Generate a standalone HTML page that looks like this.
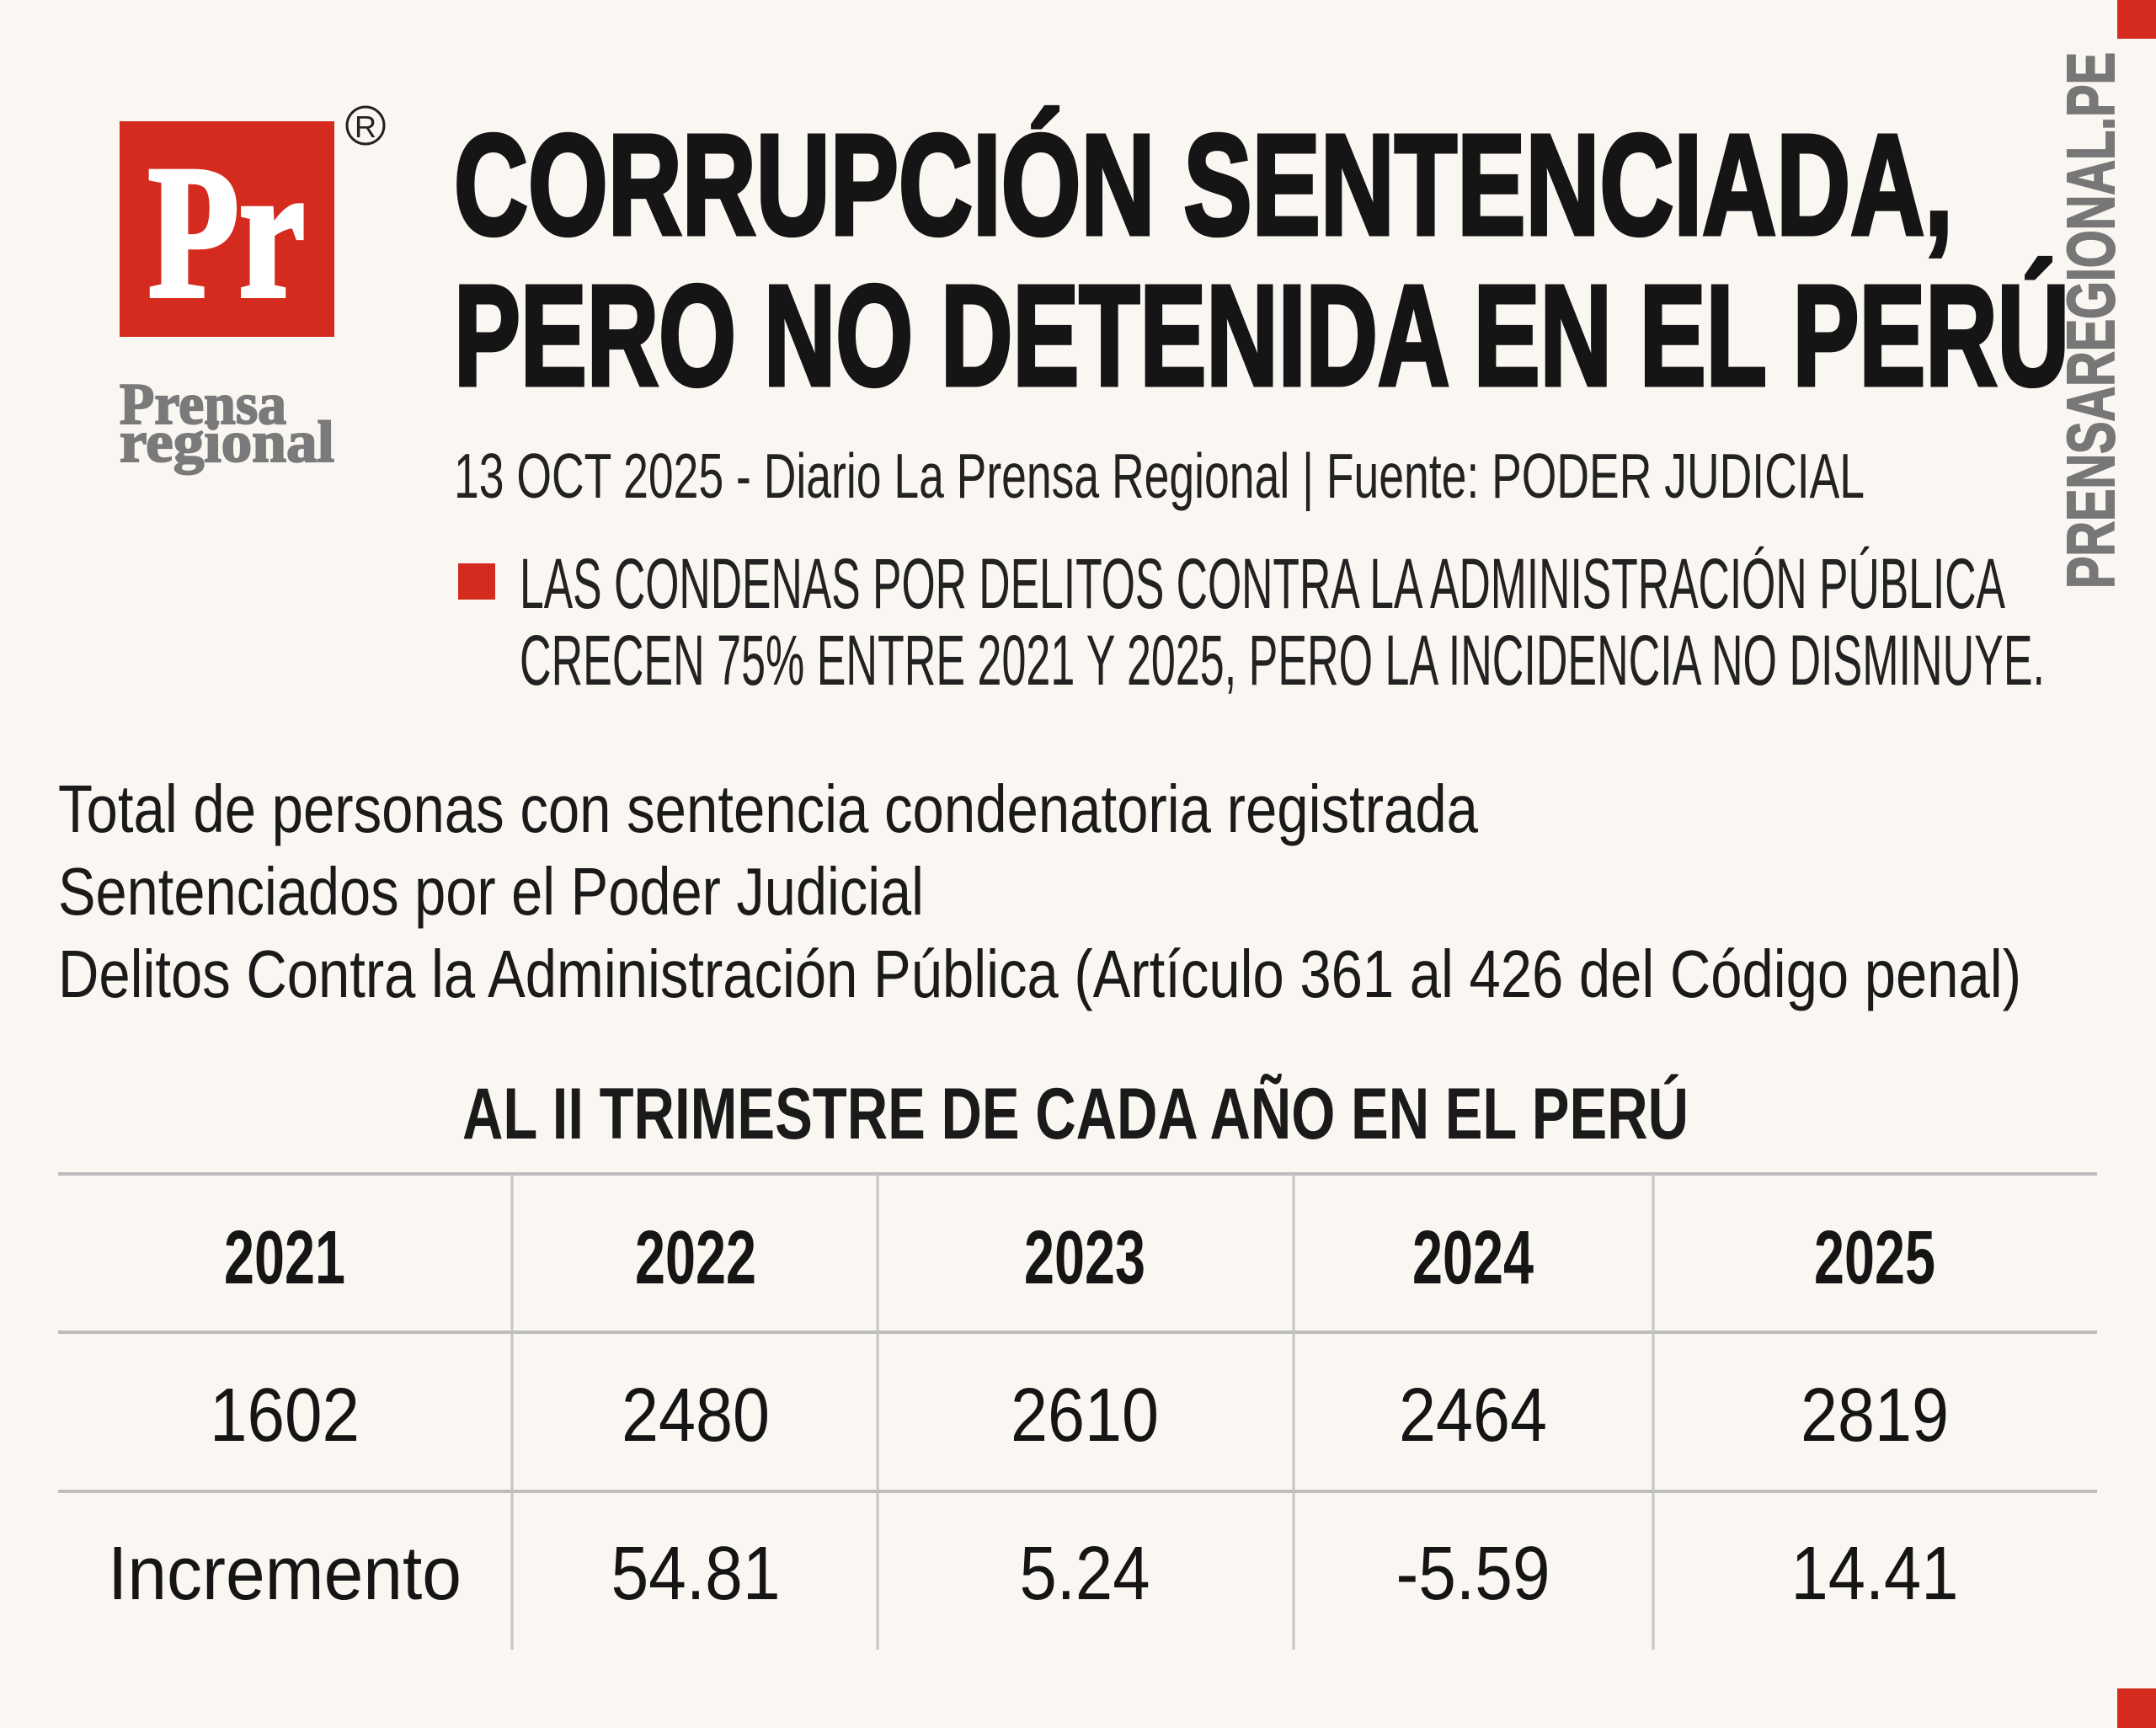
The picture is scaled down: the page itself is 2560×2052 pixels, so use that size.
<!DOCTYPE html>
<html><head><meta charset="utf-8"><style>
html,body{margin:0;padding:0;background:#faf6f2;}
svg{display:block;}
</style></head><body>
<svg width="2560" height="2052" viewBox="0 0 2560 2052" xmlns="http://www.w3.org/2000/svg">
<rect width="2560" height="2052" fill="#faf6f2"/>
<rect x="2514" y="0" width="46" height="46" fill="#d52b1e"/>
<rect x="2514" y="2005" width="46" height="47" fill="#d52b1e"/>
<!-- logo -->
<rect x="142" y="144" width="255" height="256" fill="#d52b1e"/>
<text x="176" y="351" font-family="Liberation Serif, serif" font-weight="bold" font-size="225" fill="#fff" stroke="#fff" stroke-width="6" textLength="186" lengthAdjust="spacingAndGlyphs">Pr</text>
<circle cx="434" cy="149" r="22" fill="none" stroke="#222" stroke-width="3"/>
<text x="434" y="163" text-anchor="middle" font-family="Liberation Sans, sans-serif" font-size="36" fill="#222">R</text>
<text x="142" y="503" font-family="Liberation Serif, serif" font-weight="bold" font-size="70" fill="#7a7a7a" stroke="#7a7a7a" stroke-width="2" textLength="198" lengthAdjust="spacingAndGlyphs">Prensa</text>
<text x="142" y="548" font-family="Liberation Serif, serif" font-weight="bold" font-size="70" fill="#7a7a7a" stroke="#7a7a7a" stroke-width="2" textLength="255" lengthAdjust="spacingAndGlyphs">regional</text>
<!-- title -->
<g font-family="Liberation Sans, sans-serif" fill="#151515">
<text x="539" y="278" font-weight="bold" font-size="170" stroke="#151515" stroke-width="5" textLength="1780" lengthAdjust="spacingAndGlyphs">CORRUPCIÓN SENTENCIADA,</text>
<text x="539" y="457" font-weight="bold" font-size="170" stroke="#151515" stroke-width="5" textLength="1918" lengthAdjust="spacingAndGlyphs">PERO NO DETENIDA EN EL PERÚ</text>
<text x="539" y="591" font-size="75" fill="#222" textLength="1675" lengthAdjust="spacingAndGlyphs">13 OCT 2025 - Diario La Prensa Regional | Fuente: PODER JUDICIAL</text>
<rect x="544" y="669" width="44" height="43" fill="#d52b1e"/>
<text x="617" y="722" font-size="84" fill="#222" textLength="1764" lengthAdjust="spacingAndGlyphs">LAS CONDENAS POR DELITOS CONTRA LA ADMINISTRACIÓN PÚBLICA</text>
<text x="617" y="813" font-size="84" fill="#222" textLength="1811" lengthAdjust="spacingAndGlyphs">CRECEN 75% ENTRE 2021 Y 2025, PERO LA INCIDENCIA NO DISMINUYE.</text>
</g>
<text transform="translate(2510,699) rotate(-90)" font-family="Liberation Sans, sans-serif" font-weight="bold" font-size="80" fill="#777" stroke="#777" stroke-width="2" textLength="637" lengthAdjust="spacingAndGlyphs">PRENSAREGIONAL.PE</text>
<!-- body -->
<g font-family="Liberation Sans, sans-serif" font-size="80" fill="#1a1a1a">
<text x="69" y="988" textLength="1686" lengthAdjust="spacingAndGlyphs">Total de personas con sentencia condenatoria registrada</text>
<text x="69" y="1086" textLength="1028" lengthAdjust="spacingAndGlyphs">Sentenciados por el Poder Judicial</text>
<text x="69" y="1184" textLength="2331" lengthAdjust="spacingAndGlyphs">Delitos Contra la Administración Pública (Artículo 361 al 426 del Código penal)</text>
<text x="549" y="1352" font-weight="bold" font-size="86" textLength="1456" lengthAdjust="spacingAndGlyphs">AL II TRIMESTRE DE CADA AÑO EN EL PERÚ</text>
</g>
<!-- table -->
<g stroke="#bdbdbd" stroke-width="4">
<line x1="69" y1="1394" x2="2490" y2="1394"/>
<line x1="69" y1="1582" x2="2490" y2="1582"/>
<line x1="69" y1="1771" x2="2490" y2="1771"/>
</g>
<g stroke="#c4c4c4" stroke-width="3">
<line x1="608" y1="1396" x2="608" y2="1959"/>
<line x1="1042" y1="1396" x2="1042" y2="1959"/>
<line x1="1536" y1="1396" x2="1536" y2="1959"/>
<line x1="1963" y1="1396" x2="1963" y2="1959"/>
</g>
<g font-family="Liberation Sans, sans-serif" fill="#151515" text-anchor="middle">
<g font-weight="bold" font-size="90">
<text x="338" y="1524" textLength="144" lengthAdjust="spacingAndGlyphs">2021</text>
<text x="826" y="1524" textLength="144" lengthAdjust="spacingAndGlyphs">2022</text>
<text x="1288" y="1524" textLength="144" lengthAdjust="spacingAndGlyphs">2023</text>
<text x="1749" y="1524" textLength="144" lengthAdjust="spacingAndGlyphs">2024</text>
<text x="2226" y="1524" textLength="144" lengthAdjust="spacingAndGlyphs">2025</text>
</g>
<g font-size="90">
<text x="338" y="1711" textLength="178" lengthAdjust="spacingAndGlyphs">1602</text>
<text x="826" y="1711" textLength="176" lengthAdjust="spacingAndGlyphs">2480</text>
<text x="1288" y="1711" textLength="176" lengthAdjust="spacingAndGlyphs">2610</text>
<text x="1749" y="1711" textLength="176" lengthAdjust="spacingAndGlyphs">2464</text>
<text x="2226" y="1711" textLength="176" lengthAdjust="spacingAndGlyphs">2819</text>
<text x="338" y="1899" textLength="420" lengthAdjust="spacingAndGlyphs">Incremento</text>
<text x="826" y="1899" textLength="201" lengthAdjust="spacingAndGlyphs">54.81</text>
<text x="1288" y="1899" textLength="155" lengthAdjust="spacingAndGlyphs">5.24</text>
<text x="1749" y="1899" textLength="183" lengthAdjust="spacingAndGlyphs">-5.59</text>
<text x="2226" y="1899" textLength="199" lengthAdjust="spacingAndGlyphs">14.41</text>
</g>
</g>
</svg>
</body></html>
